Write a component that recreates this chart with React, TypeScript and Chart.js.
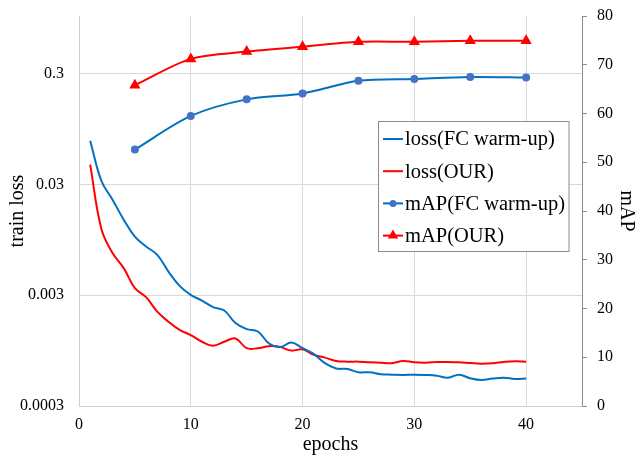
import React, { useEffect, useRef } from 'react';
import { Chart, registerables } from 'chart.js';

Chart.register(...registerables);

const FONT = "'Liberation Serif', 'Times New Roman', serif";
Chart.defaults.font.family = FONT;
Chart.defaults.font.size = 16;
Chart.defaults.color = '#000';

const lossEpochs = [1, 2, 3, 4, 5, 6, 7, 8, 9, 10, 11, 12, 13, 14, 15, 16, 17, 18, 19, 20, 21, 22, 23, 24, 25, 26, 27, 28, 29, 30, 31, 32, 33, 34, 35, 36, 37, 38, 39, 40];
const lossFC = [0.0743, 0.0323, 0.0218, 0.0144, 0.0101, 0.00825, 0.00693, 0.0049, 0.00364, 0.00302, 0.00268, 0.00234, 0.00218, 0.00168, 0.00148, 0.00141, 0.0011, 0.00102, 0.00112, 0.000997, 0.000885, 0.00073, 0.000654, 0.000648, 0.000605, 0.000605, 0.00058, 0.000575, 0.000572, 0.000575, 0.000572, 0.000563, 0.00054, 0.000575, 0.000534, 0.000515, 0.00053, 0.00054, 0.000526, 0.00053];
const lossOUR = [0.0451, 0.0119, 0.00719, 0.00526, 0.00347, 0.00288, 0.00213, 0.00173, 0.00146, 0.00131, 0.00114, 0.00105, 0.00114, 0.00122, 0.000997, 0.000997, 0.00104, 0.00102, 0.000948, 0.000975, 0.000867, 0.00082, 0.000765, 0.000754, 0.000754, 0.000744, 0.000738, 0.00073, 0.000765, 0.000744, 0.000738, 0.000749, 0.000749, 0.000744, 0.000733, 0.000723, 0.00073, 0.000749, 0.00076, 0.000754];
const mapEpochs = [5, 10, 15, 20, 25, 30, 35, 40];
const mapFC = [52.6, 59.5, 62.9, 64.1, 66.7, 67.1, 67.5, 67.4];
const mapOUR = [65.8, 71.2, 72.7, 73.7, 74.7, 74.7, 74.9, 74.9];
const xTicks = [0, 10, 20, 30, 40];
const lossTicks = [0.0003, 0.003, 0.03, 0.3];
const legendLabels = ['loss(FC warm-up)', 'loss(OUR)', 'mAP(FC warm-up)', 'mAP(OUR)'];

const BLUE = '#0070C0';
const BLUE_MARK = '#4472C4';
const RED = '#FF0000';

const overlayPlugin = {
  id: 'overlay',
  afterDraw(chart: any) {
    const ctx = chart.ctx as CanvasRenderingContext2D;
    const a = chart.chartArea;
    ctx.save();
    ctx.fillStyle = '#000';
    ctx.font = `20px ${FONT}`;
    ctx.textAlign = 'center';
    ctx.textBaseline = 'middle';
    ctx.fillText('epochs', (a.left + a.right) / 2, a.bottom + 39);

    ctx.save();
    ctx.translate(18, (a.top + a.bottom) / 2);
    ctx.rotate(-Math.PI / 2);
    ctx.fillText('train loss', 0, 0);
    ctx.restore();

    ctx.save();
    ctx.translate(626, (a.top + a.bottom) / 2);
    ctx.rotate(Math.PI / 2);
    ctx.fillText('mAP', 0, 0);
    ctx.restore();

    // legend
    const bx = 378.5, by = 121.5, bw = 190.5, bh = 130;
    ctx.fillStyle = '#fff';
    ctx.fillRect(bx, by, bw, bh);
    ctx.strokeStyle = '#8C8C8C';
    ctx.lineWidth = 1;
    ctx.strokeRect(bx, by, bw, bh);

    const colors = [BLUE, RED, BLUE, RED];
    legendLabels.forEach((label, i) => {
      const cy = 139 + i * 32.2;
      ctx.strokeStyle = colors[i];
      ctx.lineWidth = 2;
      ctx.beginPath();
      ctx.moveTo(383, cy);
      ctx.lineTo(403, cy);
      ctx.stroke();
      if (i === 2) {
        ctx.fillStyle = BLUE_MARK;
        ctx.beginPath();
        ctx.arc(393, cy, 3.5, 0, Math.PI * 2);
        ctx.fill();
      } else if (i === 3) {
        ctx.fillStyle = RED;
        const r = 6;
        ctx.beginPath();
        ctx.moveTo(393, cy - r);
        ctx.lineTo(393 + r * 0.866, cy + r / 2);
        ctx.lineTo(393 - r * 0.866, cy + r / 2);
        ctx.closePath();
        ctx.fill();
      }
      ctx.fillStyle = '#000';
      ctx.font = `20.5px ${FONT}`;
      ctx.textAlign = 'left';
      ctx.textBaseline = 'middle';
      ctx.fillText(label, 405, cy + 1);
    });
    ctx.restore();
  },
};

const tickFont = { family: FONT, size: 16 };

export default function App() {
  const ref = useRef<HTMLCanvasElement | null>(null);

  useEffect(() => {
    if (!ref.current) return;
    const chart = new Chart(ref.current, {
      type: 'line',
      data: {
        datasets: [
          {
            label: legendLabels[0],
            data: lossEpochs.map((e, i) => ({ x: e, y: lossFC[i] })),
            yAxisID: 'yL',
            borderColor: BLUE,
            backgroundColor: BLUE,
            borderWidth: 2,
            pointRadius: 0,
            tension: 0.4,
          },
          {
            label: legendLabels[1],
            data: lossEpochs.map((e, i) => ({ x: e, y: lossOUR[i] })),
            yAxisID: 'yL',
            borderColor: RED,
            backgroundColor: RED,
            borderWidth: 2,
            pointRadius: 0,
            tension: 0.4,
          },
          {
            label: legendLabels[2],
            data: mapEpochs.map((e, i) => ({ x: e, y: mapFC[i] })),
            yAxisID: 'yR',
            borderColor: BLUE,
            backgroundColor: BLUE_MARK,
            borderWidth: 2,
            pointRadius: 4,
            pointStyle: 'circle',
            pointBackgroundColor: BLUE_MARK,
            pointBorderColor: BLUE_MARK,
            pointBorderWidth: 0,
            tension: 0.3,
          },
          {
            label: legendLabels[3],
            data: mapEpochs.map((e, i) => ({ x: e, y: mapOUR[i] })),
            yAxisID: 'yR',
            borderColor: RED,
            backgroundColor: RED,
            borderWidth: 2,
            pointRadius: 6.5,
            pointStyle: 'triangle',
            pointBackgroundColor: RED,
            pointBorderColor: RED,
            pointBorderWidth: 0,
            tension: 0.3,
          },
        ],
      },
      options: {
        animation: false,
        responsive: true,
        maintainAspectRatio: false,
        devicePixelRatio: 1,
        layout: { padding: { top: 16, left: 0, right: 0, bottom: 0 } },
        plugins: {
          legend: { display: false },
          tooltip: { enabled: false },
          title: { display: false },
        },
        scales: {
          x: {
            type: 'linear',
            min: 0,
            max: 45,
            afterBuildTicks: (scale: any) => {
              scale.ticks = xTicks.map((v) => ({ value: v }));
            },
            afterFit: (scale: any) => {
              scale.height = 50;
              scale.paddingLeft = 0;
              scale.paddingRight = 0;
            },
            grid: { color: '#D9D9D9', lineWidth: 1, drawTicks: false },
            border: { display: true, color: '#D0D0D0', width: 1 },
            ticks: {
              color: '#000',
              font: tickFont,
              padding: 9,
              callback: (v: any) => String(v),
            },
          },
          yL: {
            type: 'logarithmic',
            position: 'left',
            min: 0.0003,
            max: 0.99,
            afterBuildTicks: (scale: any) => {
              scale.ticks = lossTicks.map((v) => ({ value: v }));
            },
            afterFit: (scale: any) => {
              scale.width = 79;
              scale.paddingTop = 0;
              scale.paddingBottom = 0;
            },
            grid: { color: '#D9D9D9', lineWidth: 1, drawTicks: false },
            border: { display: true, color: '#D0D0D0', width: 1 },
            ticks: {
              color: '#000',
              font: tickFont,
              padding: 15,
              callback: (v: any) => String(v),
            },
          },
          yR: {
            type: 'linear',
            position: 'right',
            min: 0,
            max: 80,
            afterBuildTicks: (scale: any) => {
              const t = [];
              for (let v = 0; v <= 80; v += 10) t.push({ value: v });
              scale.ticks = t;
            },
            afterFit: (scale: any) => {
              scale.width = 54;
              scale.paddingTop = 0;
              scale.paddingBottom = 0;
            },
            grid: { drawOnChartArea: false, drawTicks: true, tickLength: 5, color: '#8C8C8C' },
            border: { display: true, color: '#8C8C8C', width: 1 },
            ticks: {
              color: '#000',
              font: tickFont,
              padding: 10,
              callback: (v: any) => String(v),
            },
          },
        },
      },
      plugins: [overlayPlugin],
    } as any);
    return () => chart.destroy();
  }, []);

  return (
    <div style={{ position: 'absolute', left: 0, top: 0, width: 636, height: 456, background: '#fff' }}>
      <canvas ref={ref} />
    </div>
  );
}
